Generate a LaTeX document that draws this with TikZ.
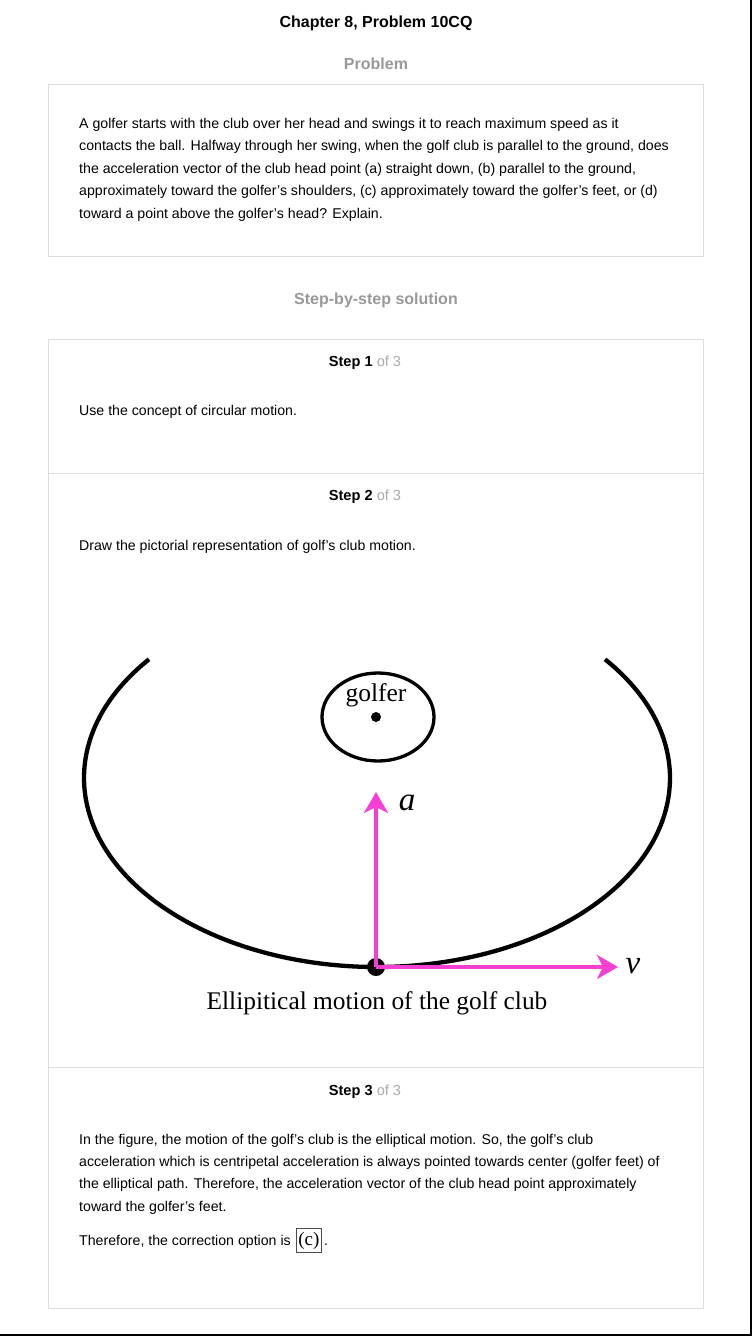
\documentclass[tikz,border=0pt]{standalone}
\usepackage{fontspec}
\setmainfont{Liberation Sans}
\newfontfamily\figfont{Liberation Serif}
\usetikzlibrary{arrows.meta}
\definecolor{boxgray}{HTML}{DDDDDD}
\definecolor{headgray}{HTML}{999999}
\definecolor{stepgray}{HTML}{AAAAAA}
\definecolor{vecpink}{HTML}{F43FD2}

\begin{document}
\begin{tikzpicture}[x=1pt, y=-1pt,
  body/.style={anchor=base west, inner sep=0pt, font=\fontsize{14.15}{16}\selectfont},
  head/.style={anchor=base, inner sep=0pt, font=\fontsize{16}{18}\selectfont\bfseries},
  steplabel/.style={anchor=base, inner sep=0pt, font=\fontsize{14.6}{16}\selectfont},
  panel/.style={draw=boxgray, line width=1pt},
  vector/.style={vecpink, line width=3.5pt, -{Stealth[length=21pt, width=24pt, inset=6pt]}}]

\useasboundingbox[fill=white] (0,0) rectangle (752,1336);
\draw[line width=2pt] (751,0) -- (751,1335) -- (0,1335);

% headings
\node[head] (title) at (376,27) {Chapter 8, Problem 10CQ};
\node[head, headgray] (problem) at (376,69) {Problem};
\node[head, headgray] (solution) at (376,304) {Step-by-step solution};

% problem box
\draw[panel] (48,84) rectangle (703,256);
\node[body] (p1) at (79,128) {A golfer starts with the club over her head and swings it to reach maximum speed as it};
\node[body] (p2) at (79,150.5) {contacts the ball. Halfway through her swing, when the golf club is parallel to the ground, does};
\node[body] (p3) at (79,173) {the acceleration vector of the club head point (a) straight down, (b) parallel to the ground,};
\node[body] (p4) at (79,195.5) {approximately toward the golfer’s shoulders, (c) approximately toward the golfer’s feet, or (d)};
\node[body] (p5) at (79,218) {toward a point above the golfer’s head? Explain.};

% solution box
\draw[panel] (48,339) rectangle (703,1308);
\draw[panel] (48,473) -- (703,473);
\draw[panel] (48,1067) -- (703,1067);

\node[steplabel] (s1) at (365,366) {\textbf{Step 1} \textcolor{stepgray}{of 3}};
\node[body] (t1) at (79,415) {Use the concept of circular motion.};

\node[steplabel] (s2) at (365,500) {\textbf{Step 2} \textcolor{stepgray}{of 3}};
\node[body] (t2) at (79,550) {Draw the pictorial representation of golf's club motion.};

% club path and golfer
\draw[line width=4.3pt] (377,778) ++(218.9:293 and 189) arc[start angle=218.9, end angle=-38.9, x radius=293, y radius=189];
\draw[line width=3.3pt] (378,717) ellipse[x radius=56, y radius=44];
\node[circle, fill=black, inner sep=0pt, minimum size=10pt] (feet) at (376,717) {};
\node[font=\figfont\fontsize{25.5}{27}\selectfont, inner sep=0pt] (golfer) at (376,695) {golfer};

\node[circle, fill=black, inner sep=0pt, minimum size=18pt] (club) at (376,967) {};
\coordinate (atip) at (376,792);
\coordinate (vtip) at (618,967);
\draw[vector] (club.center) -- (atip);
\draw[vector] (club.center) -- (vtip);
\node[font=\figfont\itshape\fontsize{33}{35}\selectfont, inner sep=0pt] (alabel) at (407,803) {a};
\node[font=\figfont\itshape\fontsize{33}{35}\selectfont, inner sep=0pt] (vlabel) at (633,966) {v};
\node[anchor=base, inner sep=0pt, font=\figfont\fontsize{25.4}{27}\selectfont] (caption) at (377,1009) {Ellipitical motion of the golf club};

\node[steplabel] (s3) at (365,1095) {\textbf{Step 3} \textcolor{stepgray}{of 3}};
\node[body] (t3a) at (79,1144) {In the figure, the motion of the golf's club is the elliptical motion. So, the golf's club};
\node[body] (t3b) at (79,1166) {acceleration which is centripetal acceleration is always pointed towards center (golfer feet) of};
\node[body] (t3c) at (79,1188.5) {the elliptical path. Therefore, the acceleration vector of the club head point approximately};
\node[body] (t3d) at (79,1211) {toward the golfer’s feet.};
\node[body] (t3e) at (79,1245) {Therefore, the correction option is};
\node[draw=black!70, line width=0.8pt, inner xsep=2pt, inner ysep=3.5pt, anchor=base west, font=\figfont\fontsize{19}{21}\selectfont] (answer) at ([xshift=5pt]t3e.base east) {(c)};
\node[body] (dot) at ([xshift=2pt]answer.base east) {.};
\end{tikzpicture}
\end{document}
